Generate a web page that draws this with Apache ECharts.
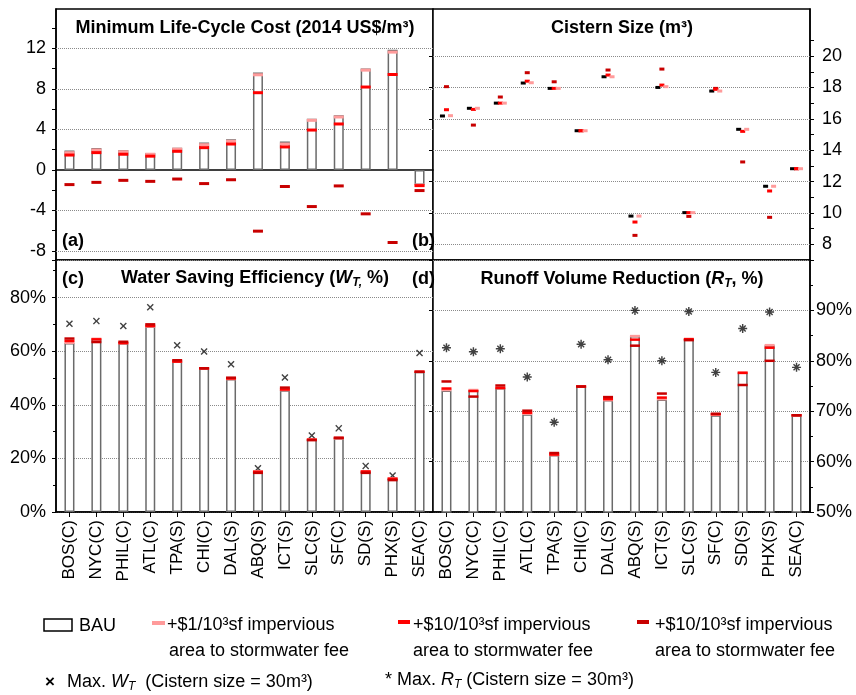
<!DOCTYPE html>
<html><head><meta charset="utf-8">
<script src="https://cdn.jsdelivr.net/npm/echarts@6/dist/echarts.min.js"></script>
<style>html,body{margin:0;padding:0;background:#fff}#c{width:856px;height:695px}</style>
</head><body><div id="c"></div>
<script>
const cities = ['BOS(C)','NYC(C)','PHIL(C)','ATL(C)','TPA(S)','CHI(C)','DAL(S)','ABQ(S)','ICT(S)','SLC(S)','SF(C)','SD(S)','PHX(S)','SEA(C)'];

// (a) Minimum life-cycle cost (2014 US$/m3)
const costBAU    = [1.91, 2.17, 1.98, 1.66, 2.18, 2.7, 3.03, 9.63, 2.8, 5.06, 5.39, 10.03, 11.87, -1.48];
const costFee1   = [1.7, 1.97, 1.8, 1.55, 2.05, 2.49, 2.83, 9.4, 2.56, 4.9, 5.23, 9.86, 11.64, -1.5];
const costFee10  = [1.47, 1.71, 1.55, 1.36, 1.84, 2.2, 2.56, 7.63, 2.27, 3.94, 4.54, 8.19, 9.43, -1.55];
const costFee100 = [-1.45, -1.23, -1.03, -1.13, -0.9, -1.35, -0.97, -6.05, -1.64, -3.62, -1.58, -4.34, -7.17, -2.04];

// (b) Cistern size (m3)
const sizeBAU    = [16.18, 16.67, 17.0, 18.28, 17.94, 15.24, 18.68, 9.8, 18.0, 10.02, 17.77, 15.33, 11.7, 12.82];
const sizeFee1   = [16.2, 16.67, 17.0, 18.3, 17.94, 15.24, 18.68, 9.8, 18.05, 10.02, 17.77, 15.33, 11.7, 12.82];
const sizeFee10  = [16.58, 16.6, 17.0, 18.4, 17.94, 15.24, 18.79, 9.42, 18.15, 10.02, 17.88, 15.2, 11.4, 12.82];
const sizeFee100 = [18.05, 15.6, 17.39, 18.94, 18.36, 15.24, 19.11, 8.57, 19.17, 9.78, 17.94, 13.25, 9.72, 12.82];

// (c) Water saving efficiency W_T (%)
const wtBAU    = [63.0, 64.6, 63.0, 69.2, 56.1, 53.6, 49.6, 15.2, 45.4, 27.0, 27.5, 15.2, 12.6, 52.3];
const wtFee1   = [63.1, 64.6, 63.0, 69.2, 56.1, 53.6, 49.6, 15.2, 45.5, 27.0, 27.5, 15.2, 12.6, 52.3];
const wtFee10  = [63.8, 64.4, 63.0, 69.4, 56.1, 53.6, 49.8, 15.0, 45.7, 27.0, 27.6, 15.1, 12.4, 52.3];
const wtFee100 = [64.7, 63.4, 63.5, 70.0, 56.6, 53.6, 50.1, 14.6, 46.4, 26.8, 27.7, 14.6, 11.9, 52.3];
const wtMax    = [70.2, 71.2, 69.4, 76.4, 62.2, 59.9, 55.1, 16.3, 50.2, 28.5, 31.2, 17.2, 13.6, 59.3];

// (d) Runoff volume reduction R_T (%)
const rtBAU    = [74.1, 74.2, 74.6, 69.4, 61.3, 74.9, 72.2, 84.9, 72.3, 84.3, 69.2, 77.7, 83.1, 69.2];
const rtFee1   = [74.2, 74.2, 74.6, 69.5, 61.3, 74.9, 72.2, 84.9, 72.4, 84.3, 69.3, 77.7, 83.1, 69.2];
const rtFee10  = [74.5, 74.0, 74.6, 69.7, 61.4, 74.9, 72.4, 84.2, 72.7, 84.3, 69.4, 77.6, 82.6, 69.2];
const rtFee100 = [75.9, 72.9, 75.1, 70.1, 61.7, 74.9, 72.8, 83.0, 73.5, 84.1, 69.5, 75.2, 80.0, 69.2];
const rtMax    = [82.6, 81.8, 82.4, 76.8, 67.8, 83.3, 80.2, 90.0, 80.0, 89.8, 77.7, 86.4, 89.7, 78.7];

// tick / label values
const costLabels = [-8, -4, 0, 4, 8, 12];
const costTicks  = [-8, -6, -4, -2, 0, 2, 4, 6, 8, 10, 12, 14];
const costGrid   = [-8, -4, 4, 8, 12];
const sizeLabels = [8, 10, 12, 14, 16, 18, 20];
const sizeTicks  = [8, 9, 10, 11, 12, 13, 14, 15, 16, 17, 18, 19, 20, 21];

const FONT = 'Liberation Sans, Arial, Helvetica, sans-serif';
const PINK = '#ff9b9b', RED = '#ff0000', DARK = '#c80000';
const GRIDLINE = {type: 'dotted', color: '#8a8a8a', width: 1};

const crossPath = 'path://M0,1.4L1.4,0L5,3.6L8.6,0L10,1.4L6.4,5L10,8.6L8.6,10L5,6.4L1.4,10L0,8.6L3.6,5Z';
const starPath = 'path://M4.2,0L5.8,0L5.8,10L4.2,10ZM0,4.2L10,4.2L10,5.8L0,5.8ZM1.1,2.2L2.2,1.1L8.9,7.8L7.8,8.9ZM7.8,1.1L8.9,2.2L2.2,8.9L1.1,7.8Z';

const grids = [
  {left: 56, top: 9, width: 377, height: 251},
  {left: 433, top: 9, width: 377, height: 251},
  {left: 56, top: 260, width: 377, height: 252},
  {left: 433, top: 260, width: 377, height: 252}
].map(g => Object.assign(g, {show: true, borderColor: '#000', borderWidth: 1.5, backgroundColor: '#fff', containLabel: false}));

const xLabel = {show: true, rotate: 90, interval: 0, fontSize: 17, fontFamily: FONT, color: '#000', margin: 8};
const xAxes = [
  {gridIndex: 0, type: 'category', data: cities, axisLine: {onZero: true, lineStyle: {color: '#000', width: 1.5}}, axisTick: {show: false}, axisLabel: {show: false}},
  {gridIndex: 1, type: 'category', data: cities, axisLine: {show: false}, axisTick: {show: false}, axisLabel: {show: false}},
  {gridIndex: 2, type: 'category', data: cities, axisLine: {lineStyle: {color: '#000', width: 1.5}}, axisTick: {show: true, alignWithLabel: true, length: 5, lineStyle: {color: '#000'}}, axisLabel: xLabel},
  {gridIndex: 3, type: 'category', data: cities, axisLine: {lineStyle: {color: '#000', width: 1.5}}, axisTick: {show: true, alignWithLabel: true, length: 5, lineStyle: {color: '#000'}}, axisLabel: xLabel}
];

const yLab = {fontSize: 18, fontFamily: FONT, color: '#000'};
const yAxes = [
  {gridIndex: 0, type: 'value', min: -8.9, max: 15.9, position: 'left',
   axisLine: {show: true, lineStyle: {color: '#000', width: 1.5}},
   axisTick: {show: true, length: 4, customValues: costTicks, lineStyle: {color: '#000'}},
   axisLabel: Object.assign({customValues: costLabels, margin: 10}, yLab),
   splitLine: {show: false}},
  {gridIndex: 1, type: 'value', min: 7, max: 23, position: 'right',
   axisLine: {show: true, lineStyle: {color: '#000', width: 1.5}},
   axisTick: {show: true, length: 4, customValues: sizeTicks, lineStyle: {color: '#000'}},
   axisLabel: Object.assign({customValues: sizeLabels, margin: 12}, yLab),
   splitLine: {show: false}},
  {gridIndex: 1, type: 'value', min: 7, max: 23, position: 'left',
   axisLine: {show: false},
   axisTick: {show: true, length: 4, customValues: sizeLabels, lineStyle: {color: '#000'}},
   axisLabel: {show: false}, splitLine: {show: false}},
  {gridIndex: 2, type: 'value', min: 0, max: 94, interval: 20, position: 'left',
   axisLine: {show: true, lineStyle: {color: '#000', width: 1.5}},
   axisTick: {show: true, length: 4, lineStyle: {color: '#000'}},
   minorTick: {show: true, splitNumber: 2, length: 3, lineStyle: {color: '#000'}},
   axisLabel: Object.assign({formatter: '{value}%', showMaxLabel: false, margin: 10}, yLab),
   splitLine: {show: true, lineStyle: GRIDLINE}},
  {gridIndex: 3, type: 'value', min: 50, max: 100, interval: 10, position: 'right',
   axisLine: {show: true, lineStyle: {color: '#000', width: 1.5}},
   axisTick: {show: true, length: 4, lineStyle: {color: '#000'}},
   minorTick: {show: true, splitNumber: 2, length: 3, lineStyle: {color: '#000'}},
   axisLabel: Object.assign({formatter: '{value}%', showMaxLabel: false, margin: 6}, yLab),
   splitLine: {show: true, lineStyle: GRIDLINE}},
  {gridIndex: 3, type: 'value', min: 50, max: 100, interval: 10, position: 'left',
   axisLine: {show: false},
   axisTick: {show: true, length: 4, lineStyle: {color: '#000'}},
   axisLabel: {show: false}, splitLine: {show: false}}
];

function barSeries(name, data, xi, yi) {
  return {name, type: 'bar', xAxisIndex: xi, yAxisIndex: yi, data, barWidth: 10, z: 3,
    itemStyle: {color: '#fff', borderColor: '#6a6a6a', borderWidth: 1.5}, silent: true};
}
function dash(name, data, xi, yi, color, size, offset) {
  return {name, type: 'scatter', xAxisIndex: xi, yAxisIndex: yi, data, symbol: 'rect',
    symbolSize: size, symbolOffset: offset || [0, 0], z: 4, itemStyle: {color, opacity: 1}, silent: true};
}
function gridLines(xi, yi, vals) {
  return {type: 'line', xAxisIndex: xi, yAxisIndex: yi, data: [], silent: true, z: 1,
    markLine: {silent: true, z: 1, symbol: 'none', label: {show: false}, lineStyle: GRIDLINE,
      emphasis: {disabled: true}, data: vals.map(v => ({yAxis: v}))}};
}

const FEE1 = '+$1/10³sf impervious area to stormwater fee';
const FEE10 = '+$10/10³sf impervious area to stormwater fee';
const FEE100 = '+$10/10³sf impervious area to stormwater fee ';

const series = [
  gridLines(0, 0, costGrid),
  gridLines(1, 1, sizeLabels),
  barSeries('BAU', costBAU, 0, 0),
  dash(FEE1, costFee1, 0, 0, PINK, [10, 3]),
  dash(FEE10, costFee10, 0, 0, RED, [10, 3]),
  dash(FEE100, costFee100, 0, 0, DARK, [10, 3]),

  dash('BAU size', sizeBAU, 1, 1, '#000', [5, 3], [-4, 0]),
  dash(FEE100, sizeFee100, 1, 1, DARK, [5, 3]),
  dash(FEE10, sizeFee10, 1, 1, RED, [5, 3]),
  dash(FEE1, sizeFee1, 1, 1, PINK, [5, 3], [4, 0]),

  barSeries('BAU', wtBAU, 2, 3),
  dash(FEE1, wtFee1, 2, 3, PINK, [10, 2.5]),
  dash(FEE10, wtFee10, 2, 3, RED, [10, 2.5]),
  dash(FEE100, wtFee100, 2, 3, DARK, [10, 2.5]),
  {name: 'Max. W_T', type: 'scatter', xAxisIndex: 2, yAxisIndex: 3, data: wtMax, symbol: crossPath, symbolSize: 7, itemStyle: {color: '#111'}, silent: true},

  barSeries('BAU', rtBAU, 3, 4),
  dash(FEE1, rtFee1, 3, 4, PINK, [10, 2.5]),
  dash(FEE10, rtFee10, 3, 4, RED, [10, 2.5]),
  dash(FEE100, rtFee100, 3, 4, DARK, [10, 2.5]),
  {name: 'Max. R_T', type: 'scatter', xAxisIndex: 3, yAxisIndex: 4, data: rtMax, symbol: starPath, symbolSize: 9, itemStyle: {color: '#111'}, silent: true}
];

function txt(x, y, text, opts) {
  return {type: 'text', x, y, silent: true, z: 100,
    style: Object.assign({text, fontFamily: FONT, fontSize: 18, fill: '#000', align: 'left', verticalAlign: 'middle',
      textAlign: 'left', textVerticalAlign: 'middle'}, opts || {})};
}
const richBase = {
  n: {fontFamily: FONT, fontSize: 18, lineHeight: 22, verticalAlign: 'middle'},
  i: {fontFamily: FONT, fontSize: 18, fontStyle: 'italic', lineHeight: 22, verticalAlign: 'middle'},
  s: {fontFamily: FONT, fontSize: 12, fontStyle: 'italic', lineHeight: 12, verticalAlign: 'bottom'},
  b: {fontFamily: FONT, fontSize: 18, fontWeight: 'bold', lineHeight: 22, verticalAlign: 'middle'},
  bi: {fontFamily: FONT, fontSize: 18, fontWeight: 'bold', fontStyle: 'italic', lineHeight: 22, verticalAlign: 'middle'},
  bs: {fontFamily: FONT, fontSize: 12, fontWeight: 'bold', fontStyle: 'italic', lineHeight: 12, verticalAlign: 'bottom'}
};

const graphic = [
  txt(245, 28, 'Minimum Life-Cycle Cost (2014 US$/m³)', {fontWeight: 'bold', align: 'center', textAlign: 'center'}),
  txt(622, 28, 'Cistern Size (m³)', {fontWeight: 'bold', align: 'center', textAlign: 'center'}),
  txt(255, 278, '{b|Water Saving Efficiency (}{bi|W}{bs|T,}{b| %)}', {rich: richBase, align: 'center', textAlign: 'center'}),
  txt(622, 279, '{b|Runoff Volume Reduction (}{bi|R}{bs|T}{b|, %)}', {rich: richBase, align: 'center', textAlign: 'center'}),
  txt(62, 241, '(a)', {fontWeight: 'bold'}),
  txt(412, 241, '(b)', {fontWeight: 'bold'}),
  txt(62, 279, '(c)', {fontWeight: 'bold'}),
  txt(412, 279, '(d)', {fontWeight: 'bold'}),
  // legend
  {type: 'rect', silent: true, shape: {x: 44, y: 619, width: 28, height: 12}, style: {fill: '#fff', stroke: '#000', lineWidth: 1.5}},
  txt(79, 626, 'BAU'),
  {type: 'rect', silent: true, shape: {x: 152, y: 621, width: 13, height: 4}, style: {fill: PINK}},
  txt(167, 625, '+$1/10³sf impervious'),
  txt(169, 651, 'area to stormwater fee'),
  {type: 'rect', silent: true, shape: {x: 398, y: 620, width: 12, height: 4}, style: {fill: RED}},
  txt(413, 625, '+$10/10³sf impervious'),
  txt(413, 651, 'area to stormwater fee'),
  {type: 'rect', silent: true, shape: {x: 637, y: 620, width: 12, height: 4}, style: {fill: DARK}},
  txt(655, 625, '+$10/10³sf impervious'),
  txt(655, 651, 'area to stormwater fee'),
  txt(50, 682, '×', {fontWeight: 'bold', fontSize: 17, align: 'center', textAlign: 'center'}),
  txt(67, 682, '{n|Max. }{i|W}{s|T}{n|  (Cistern size = 30m³)}', {rich: richBase}),
  txt(385, 680, '{n|* Max. }{i|R}{s|T}{n| (Cistern size = 30m³)}', {rich: richBase})
];

const chart = echarts.init(document.getElementById('c'), null, {renderer: 'canvas'});
chart.setOption({
  animation: false,
  backgroundColor: '#fff',
  textStyle: {fontFamily: FONT},
  grid: grids,
  xAxis: xAxes,
  yAxis: yAxes,
  series,
  graphic
});
</script></body></html>
